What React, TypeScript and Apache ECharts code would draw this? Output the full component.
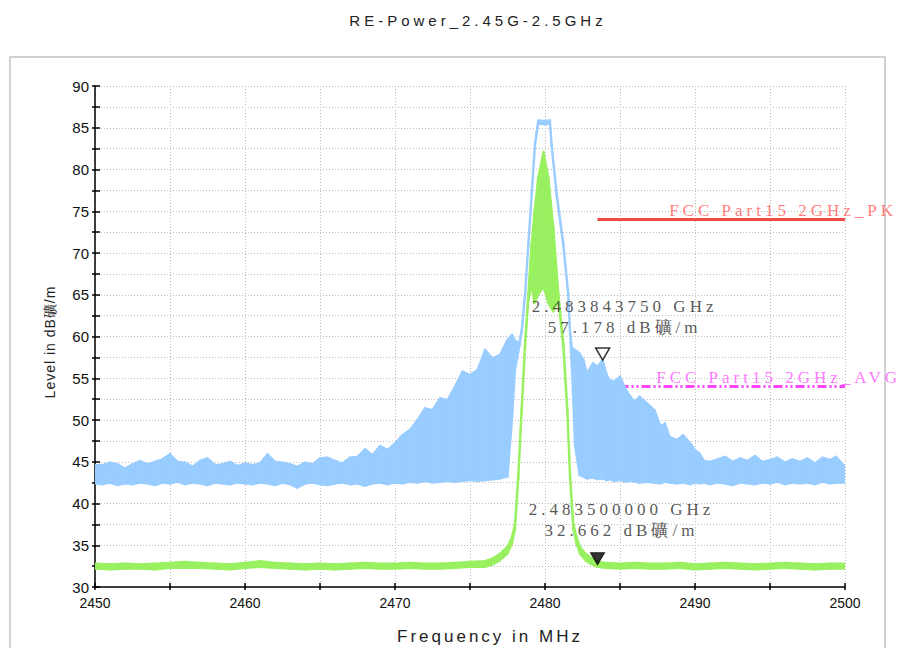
import React, { useEffect, useRef } from 'react';
import * as echarts from 'echarts';

// Peak trace (blue): frequency in MHz, upper and lower envelope of the noisy trace in dBµV/m
const blueFreq = [
  2450.0, 2450.5, 2451.0, 2451.5, 2452.0, 2452.5, 2453.0, 2453.5, 2454.0, 2454.5,
  2455.0, 2455.5, 2456.0, 2456.5, 2457.0, 2457.5, 2458.0, 2458.5, 2459.0, 2459.5,
  2460.0, 2460.5, 2461.0, 2461.5, 2462.0, 2462.5, 2463.0, 2463.5, 2464.0, 2464.5,
  2465.0, 2465.5, 2466.0, 2466.5, 2467.0, 2467.5, 2468.0, 2468.5, 2469.0, 2469.5,
  2470.0, 2470.5, 2471.0, 2471.5, 2472.0, 2472.5, 2473.0, 2473.5, 2474.0, 2474.5,
  2475.0, 2475.5, 2476.0, 2476.5, 2477.0, 2477.5, 2477.8, 2478.0, 2478.3, 2478.45,
  2478.67, 2478.89, 2479.11, 2479.33, 2479.55, 2480.0, 2480.33, 2480.44, 2480.78, 2481.22,
  2481.55, 2481.67, 2481.8, 2482.0, 2482.3, 2482.56, 2482.8, 2483.2, 2483.5, 2483.84,
  2484.1, 2484.3, 2484.6, 2485.0, 2485.4, 2485.7, 2486.0, 2486.3, 2486.8, 2487.3,
  2487.7, 2488.0, 2488.3, 2488.8, 2489.2, 2489.7, 2490.0, 2490.3, 2490.6, 2491.0,
  2491.5, 2492.0, 2492.5, 2493.0, 2493.5, 2494.0, 2494.5, 2495.0, 2495.5, 2496.0,
  2496.5, 2497.0, 2497.5, 2498.0, 2498.5, 2499.0, 2499.4, 2500.0,
];
const bluePeakHi = [
  44.6, 44.6, 44.9, 44.7, 44.2, 44.7, 45.1, 44.7, 45.0, 45.3,
  45.9, 45.0, 44.9, 44.4, 45.1, 45.4, 44.6, 44.7, 45.0, 44.5,
  44.8, 44.6, 44.8, 45.9, 45.0, 44.9, 44.7, 44.4, 44.9, 44.7,
  45.4, 45.5, 45.1, 44.8, 45.5, 45.6, 46.5, 45.8, 46.9, 46.4,
  47.2, 48.2, 48.8, 50.0, 51.4, 51.2, 52.6, 52.4, 54.0, 55.8,
  55.4, 56.0, 58.4, 57.4, 57.8, 59.6, 60.2, 59.5, 59.3, 60.8,
  65.2, 71.2, 77.1, 83.1, 85.9, 85.8, 85.9, 83.1, 77.1, 71.2,
  65.2, 60.6, 58.6, 58.4, 58.0, 57.2, 55.6, 56.8, 56.4, 57.2,
  55.5, 54.8, 54.6, 55.2, 53.6, 52.8, 52.2, 52.8, 52.0, 51.2,
  49.2, 49.6, 48.0, 47.6, 48.2, 47.2, 46.4, 46.0, 45.1, 45.0,
  45.3, 45.6, 45.0, 45.4, 45.1, 45.7, 45.0, 45.2, 45.5, 44.9,
  45.3, 45.0, 45.4, 44.8, 45.5, 45.2, 45.6, 44.4,
];
const bluePeakLo = [
  42.4, 42.3, 42.5, 42.2, 42.4, 42.3, 42.5, 42.4, 42.2, 42.5,
  42.4, 42.6, 42.3, 42.5, 42.4, 42.2, 42.5, 42.4, 42.3, 42.5,
  42.4, 42.3, 42.5, 42.4, 42.2, 42.5, 42.3, 41.9, 42.4, 42.5,
  42.3, 42.2, 42.4, 42.5, 42.3, 42.4, 42.1, 42.4, 42.5, 42.3,
  42.5, 42.4, 42.6, 42.5, 42.7, 42.5, 42.6, 42.7, 42.6, 42.7,
  42.8, 42.7, 42.8, 42.9, 43.0, 43.2, 50.0, 56.0, 58.9, 60.5,
  64.9, 70.9, 76.8, 82.8, 85.5, 85.4, 85.5, 82.8, 76.8, 70.9,
  64.9, 60.3, 56.0, 47.0, 43.4, 43.2, 43.0, 43.1, 42.9, 43.0,
  42.8, 42.9, 42.7, 42.8, 42.6, 42.7, 42.6, 42.5, 42.6, 42.5,
  42.4, 42.6, 42.5, 42.4, 42.5, 42.3, 42.5, 42.4, 42.5, 42.3,
  42.5, 42.4, 42.2, 42.5, 42.4, 42.3, 42.5, 42.4, 42.6, 42.3,
  42.5, 42.4, 42.5, 42.3, 42.6, 42.4, 42.5, 42.5,
];

// Average trace (green)
const greenFreq = [
  2450, 2451, 2452, 2453, 2454, 2455, 2456, 2457, 2458, 2459,
  2460, 2461, 2462, 2463, 2464, 2465, 2466, 2467, 2468, 2469,
  2470, 2471, 2472, 2473, 2474, 2475, 2476, 2476.5, 2477, 2477.5,
  2477.8, 2478.0, 2478.22, 2478.44, 2478.67, 2478.89, 2479.1, 2479.3, 2479.55, 2479.9,
  2480.22, 2480.55, 2480.89, 2481.22, 2481.49, 2481.67, 2481.89, 2482.1, 2482.33, 2482.7,
  2483.0, 2483.5, 2484, 2485, 2486, 2487, 2488, 2489, 2490, 2491,
  2492, 2493, 2494, 2495, 2496, 2497, 2498, 2499, 2500,
];
const greenAvgHi = [
  32.8, 32.7, 32.8, 32.7, 32.8, 32.9, 33.0, 32.9, 32.8, 32.7,
  32.9, 33.1, 32.9, 32.8, 32.7, 32.8, 32.7, 32.8, 32.9, 32.8,
  32.8, 32.9, 32.8, 32.8, 32.9, 33.0, 33.1, 33.4, 34.0, 34.8,
  36.0, 37.6, 43.5, 51.4, 59.3, 65.2, 71.0, 75.0, 79.1, 82.1,
  79.1, 73.2, 65.2, 59.3, 51.4, 43.5, 37.6, 36.0, 34.8, 34.0,
  33.6, 33.0, 32.9, 32.8, 32.9, 32.8, 32.8, 32.9, 32.7, 32.8,
  32.9, 32.8, 32.7, 32.8, 32.9, 32.8, 32.7, 32.8, 32.8,
];
const greenAvgLo = [
  32.2, 32.1, 32.2, 32.2, 32.1, 32.3, 32.3, 32.3, 32.2, 32.1,
  32.3, 32.4, 32.3, 32.2, 32.1, 32.2, 32.1, 32.2, 32.3, 32.2,
  32.2, 32.3, 32.2, 32.2, 32.3, 32.4, 32.4, 32.7, 33.2, 34.0,
  35.2, 36.9, 42.9, 50.8, 58.6, 64.4, 66.0, 64.0, 65.0, 66.0,
  64.0, 63.0, 64.4, 58.6, 50.8, 42.9, 36.9, 35.2, 34.0, 33.2,
  32.8, 32.4, 32.3, 32.2, 32.3, 32.2, 32.2, 32.3, 32.1, 32.2,
  32.3, 32.2, 32.1, 32.2, 32.3, 32.2, 32.1, 32.2, 32.2,
];

// Limit lines
const limitFreq = [2483.5, 2500];
const pkLimit = [74, 74];
const avgLimit = [54, 54];
const pkLimitName = 'FCC Part15 2GHz_PK';
const avgLimitName = 'FCC Part15 2GHz_AVG';

// Markers
const markerFreq = [2483.84375, 2483.5];
const markerLevel = [57.178, 32.662];
const markerFilled = [false, true];

const BLUE = '#99ccff';
const GREEN = '#99f060';

const css = `
text[style*="Liberation Serif"] { letter-spacing: 4px; }
text[style*="Helvetica"] { letter-spacing: 4px; }
text[style*="Arial"] { letter-spacing: 3px; }
text[style*="FreeSans"] { letter-spacing: 1px; }
`;

function bandSeries(name: string, f: number[], hi: number[], lo: number[], color: string, width: number, z: number) {
  return {
    type: 'custom',
    name,
    z,
    silent: true,
    clip: true,
    data: f.slice(0, -1).map((x, i) => [x, hi[i], lo[i]]),
    encode: { x: 0, y: [1, 2] },
    renderItem: (params: any, api: any) => {
      const i = params.dataIndex;
      const pts = [
        api.coord([f[i], hi[i]]),
        api.coord([f[i + 1], hi[i + 1]]),
        api.coord([f[i + 1], lo[i + 1]]),
        api.coord([f[i], lo[i]]),
      ];
      return {
        type: 'polygon',
        shape: { points: pts },
        style: { fill: color, stroke: color, lineWidth: width, lineJoin: 'round' },
      };
    },
  };
}

export default function App() {
  const ref = useRef<HTMLDivElement>(null);
  useEffect(() => {
    const chart = echarts.init(ref.current!, null, { renderer: 'svg' });
    const pair = (f: number[], v: number[]) => f.map((x, i) => [x, v[i]]);
    const markerText = (i: number) =>
      `${(markerFreq[i] / 1000).toFixed(9)} GHz\n${markerLevel[i].toFixed(3)} dB礦/m`;

    const tickLine = { color: '#000', width: 1.5 };
    const grid = { color: '#bcbcbc', width: 1, type: [1, 2] as any };

    const option: any = {
      animation: false,
      backgroundColor: '#ffffff',
      grid: { left: 95, right: 55, top: 86, bottom: 61, containLabel: false },
      xAxis: [
        {
          type: 'value', min: 2450, max: 2500, interval: 5, position: 'bottom',
          axisLine: { show: true, onZero: false, lineStyle: tickLine },
          axisTick: { show: true, inside: false, length: 3, lineStyle: tickLine },
          axisLabel: {
            formatter: (v: number) => (v % 10 === 0 ? String(v) : ''),
            color: '#111', fontSize: 14, fontFamily: 'Liberation Sans', margin: 9,
          },
          splitLine: { show: true, lineStyle: grid },
        },
        {
          type: 'value', min: 2450, max: 2500, interval: 5, position: 'bottom',
          axisLine: { show: false },
          axisTick: { show: true, inside: true, length: 4, lineStyle: tickLine },
          axisLabel: { show: false },
          splitLine: { show: false },
        },
      ],
      yAxis: [
        {
          type: 'value', min: 30, max: 90, interval: 2.5, position: 'left',
          axisLine: { show: true, onZero: false, lineStyle: tickLine },
          axisTick: { show: true, inside: false, length: 3, lineStyle: tickLine },
          axisLabel: {
            formatter: (v: number) => (v % 5 === 0 ? String(v) : ''),
            color: '#111', fontSize: 15, fontFamily: 'Liberation Sans', margin: 6,
          },
          splitLine: { show: true, lineStyle: grid },
        },
        {
          type: 'value', min: 30, max: 90, interval: 2.5, position: 'left',
          axisLine: { show: false },
          axisTick: { show: true, inside: true, length: 5, lineStyle: tickLine },
          axisLabel: { show: false },
          splitLine: { show: false },
        },
      ],
      graphic: [
        {
          type: 'rect', silent: true, z: 0,
          shape: { x: 10, y: 57, width: 875, height: 640 },
          style: { fill: 'none', stroke: '#c4c4c4', lineWidth: 1.5 },
        },
        {
          type: 'text', x: 478, y: 20, silent: true,
          style: {
            text: 'RE-Power_2.45G-2.5GHz', fontFamily: 'Liberation Sans, Helvetica', fontSize: 15,
            fill: '#222', align: 'center', verticalAlign: 'middle',
          },
        },
        {
          type: 'text', x: 490, y: 636, silent: true,
          style: {
            text: 'Frequency in MHz', fontFamily: 'Liberation Sans, Arial', fontSize: 17,
            fill: '#222', align: 'center', verticalAlign: 'middle',
          },
        },
        {
          type: 'text', x: 50, y: 342, rotation: Math.PI / 2, silent: true,
          style: {
            text: 'Level in dB礦/m', fontFamily: 'Liberation Sans, FreeSans', fontSize: 14,
            fill: '#222', align: 'center', verticalAlign: 'middle',
          },
        },
      ],
      series: [
        {
          type: 'line', name: pkLimitName, data: pair(limitFreq, pkLimit), symbol: 'none', z: 1,
          lineStyle: { color: '#f24848', width: 3 },
        },
        {
          type: 'line', name: avgLimitName, data: pair(limitFreq, avgLimit), symbol: 'none', z: 1,
          lineStyle: { color: '#ff44ff', width: 3, type: [9, 3, 2, 3, 2, 3] },
        },
        bandSeries('Peak', blueFreq, bluePeakHi, bluePeakLo, BLUE, 2.2, 2),
        bandSeries('Average', greenFreq, greenAvgHi, greenAvgLo, GREEN, 2.2, 3),
        {
          type: 'scatter', name: 'Markers', z: 5, silent: true,
          symbol: 'triangle', symbolRotate: 180, symbolSize: [14, 12], symbolOffset: [0, -6],
          data: markerFreq.map((f, i) => ({
            value: [f, markerLevel[i]],
            itemStyle: markerFilled[i]
              ? { color: '#000', borderColor: '#000', borderWidth: 1 }
              : { color: '#fff', borderColor: '#000', borderWidth: 1.5 },
          })),
        },
        {
          type: 'scatter', name: 'Labels', z: 6, silent: true, symbolSize: 1,
          itemStyle: { color: 'rgba(0,0,0,0)' },
          label: { fontFamily: 'Liberation Serif', fontSize: 17, color: '#2a2a2a', lineHeight: 21 },
          data: [
            {
              value: [markerFreq[0], markerLevel[0]],
              label: { show: true, position: 'inside', offset: [22, -43], formatter: markerText(0) },
            },
            {
              value: [markerFreq[1], markerLevel[1]],
              label: { show: true, position: 'inside', offset: [24, -45], formatter: markerText(1) },
            },
            {
              value: [limitFreq[1], pkLimit[1]],
              label: {
                show: true, position: 'inside', align: 'right', offset: [52, -9],
                formatter: pkLimitName, color: '#ff5a5a',
              },
            },
            {
              value: [limitFreq[1], avgLimit[1]],
              label: {
                show: true, position: 'inside', align: 'right', offset: [56, -9],
                formatter: avgLimitName, color: '#ff55ff',
              },
            },
          ],
        },
      ],
    };
    chart.setOption(option);
    return () => chart.dispose();
  }, []);
  return (
    <>
      <style>{css}</style>
      <div ref={ref} style={{ position: 'absolute', left: 0, top: 0, width: 900, height: 648 }} />
    </>
  );
}
